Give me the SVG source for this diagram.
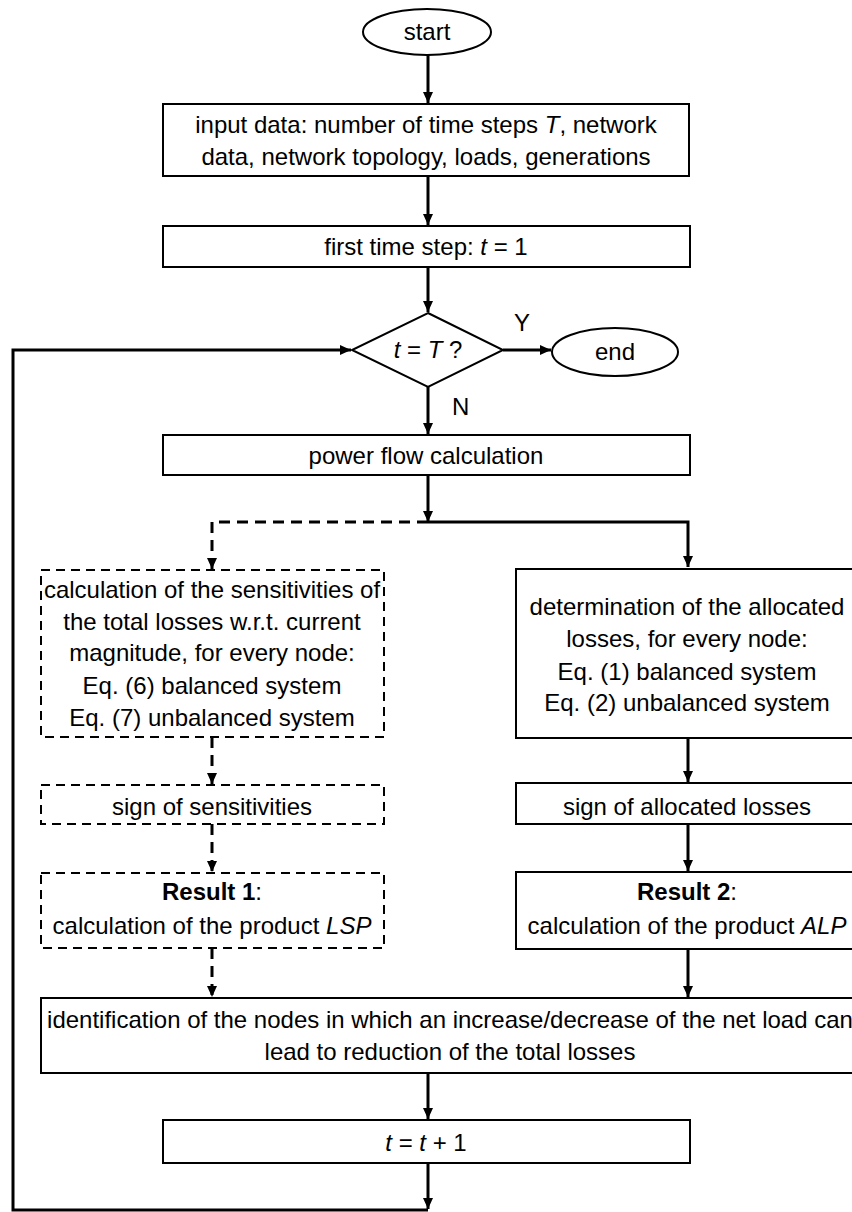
<svg xmlns="http://www.w3.org/2000/svg" width="852" height="1212" viewBox="0 0 852 1212">
<style>
text{font-family:"Liberation Sans",Arial,sans-serif;font-size:24px;fill:#000;text-anchor:middle}
.i{font-style:italic}
.b{font-weight:bold}
.box{fill:#fff;stroke:#000;stroke-width:2}
.dbox{fill:#fff;stroke:#000;stroke-width:2;stroke-dasharray:9 6}
.c{fill:none;stroke:#000;stroke-width:3}
.dc{fill:none;stroke:#000;stroke-width:3;stroke-dasharray:11 7}
.lbl{text-anchor:start}
</style>
<defs>
<marker id="ah" markerUnits="userSpaceOnUse" markerWidth="12" markerHeight="10" refX="11" refY="5" orient="auto">
<path d="M0,0 L11,5 L0,10 z" fill="#000"/>
</marker>
</defs>
<g id="connectors">
<path class="c" d="M428,55 V103" marker-end="url(#ah)"/>
<path class="c" d="M428,176 V225" marker-end="url(#ah)"/>
<path class="c" d="M428,267 V312" marker-end="url(#ah)"/>
<path class="c" d="M503,350 H551" marker-end="url(#ah)"/>
<path class="c" d="M428,387 V434" marker-end="url(#ah)"/>
<path class="c" d="M428,475 V522" marker-end="url(#ah)"/>
<path class="c" d="M428,522 H688 V567" marker-end="url(#ah)"/>
<path class="dc" d="M428,522 H212 V569" marker-end="url(#ah)"/>
<path class="dc" d="M212,737 V784" marker-end="url(#ah)"/>
<path class="dc" d="M212,824 V872" marker-end="url(#ah)"/>
<path class="dc" d="M212,948 V997" marker-end="url(#ah)"/>
<path class="c" d="M688,738 V782" marker-end="url(#ah)"/>
<path class="c" d="M688,824 V871" marker-end="url(#ah)"/>
<path class="c" d="M688,949 V997" marker-end="url(#ah)"/>
<path class="c" d="M428,1073 V1119" marker-end="url(#ah)"/>
<path class="c" d="M428,1163 V1209" marker-end="url(#ah)"/>
<path class="c" d="M428,1210 H13 V350 H351" marker-end="url(#ah)"/>
</g>
<g id="start">
<ellipse class="box" cx="427" cy="32" rx="64" ry="23"/>
<text x="427" y="40">start</text>
</g>
<g id="input">
<rect class="box" x="163" y="104" width="526" height="72"/>
<text x="426" y="133">input data: number of time steps <tspan class="i">T</tspan>, network</text>
<text x="426" y="165">data, network topology, loads, generations</text>
</g>
<g id="first">
<rect class="box" x="163" y="226" width="527" height="41"/>
<text x="426" y="255">first time step: <tspan class="i">t</tspan> = 1</text>
</g>
<g id="decision">
<polygon class="box" points="428,313 503,350 428,387 352,350"/>
<text x="428" y="358"><tspan class="i">t</tspan> = <tspan class="i">T</tspan> ?</text>
<text class="lbl" x="514" y="331">Y</text>
<text class="lbl" x="452" y="415">N</text>
</g>
<g id="end">
<ellipse class="box" cx="615" cy="352" rx="63" ry="24"/>
<text x="615" y="360">end</text>
</g>
<g id="powerflow">
<rect class="box" x="163" y="435" width="527" height="40"/>
<text x="426" y="464">power flow calculation</text>
</g>
<g id="sensitivities">
<rect class="dbox" x="41" y="570" width="343" height="167"/>
<text x="212" y="598">calculation of the sensitivities of</text>
<text x="212" y="630">the total losses w.r.t. current</text>
<text x="212" y="661">magnitude, for every node:</text>
<text x="212" y="694">Eq. (6) balanced system</text>
<text x="212" y="726">Eq. (7) unbalanced system</text>
</g>
<g id="allocated">
<rect class="box" x="516" y="569" width="344" height="169"/>
<text x="687" y="615">determination of the allocated</text>
<text x="687" y="647">losses, for every node:</text>
<text x="687" y="680">Eq. (1) balanced system</text>
<text x="687" y="711">Eq. (2) unbalanced system</text>
</g>
<g id="signsens">
<rect class="dbox" x="41" y="785" width="343" height="39"/>
<text x="212" y="815">sign of sensitivities</text>
</g>
<g id="signalloc">
<rect class="box" x="516" y="783" width="344" height="41"/>
<text x="687" y="815">sign of allocated losses</text>
</g>
<g id="result1">
<rect class="dbox" x="41" y="873" width="343" height="75"/>
<text x="212" y="900"><tspan class="b">Result 1</tspan>:</text>
<text x="212" y="934">calculation of the product <tspan class="i">LSP</tspan></text>
</g>
<g id="result2">
<rect class="box" x="516" y="872" width="344" height="77"/>
<text x="687" y="900"><tspan class="b">Result 2</tspan>:</text>
<text x="687" y="934">calculation of the product <tspan class="i">ALP</tspan></text>
</g>
<g id="identification">
<rect class="box" x="41" y="998" width="820" height="75"/>
<text x="450" y="1028">identification of the nodes in which an increase/decrease of the net load can</text>
<text x="450" y="1060">lead to reduction of the total losses</text>
</g>
<g id="increment">
<rect class="box" x="163" y="1120" width="527" height="43"/>
<text x="426" y="1151"><tspan class="i">t</tspan> = <tspan class="i">t</tspan> + 1</text>
</g>
</svg>
